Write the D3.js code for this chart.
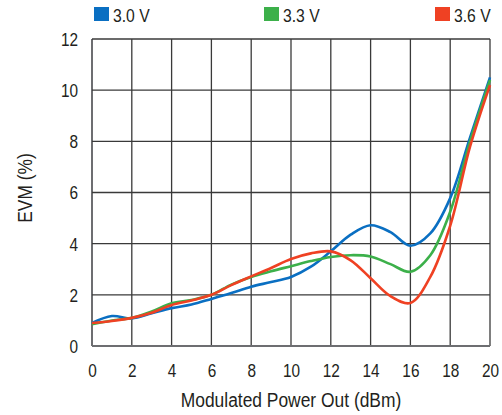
<!DOCTYPE html>
<html><head><meta charset="utf-8">
<script src="https://cdn.jsdelivr.net/npm/d3@7/dist/d3.min.js"></script>
<style>body{margin:0;background:#fff}svg{display:block}text{font-family:"Liberation Sans",Arial,sans-serif;fill:#231f20}</style>
</head><body><svg id="c" width="502" height="415"></svg>
<script>
const xValues = [0,1,2,3,4,5,6,7,8,9,10,11,12,13,14,15,16,17,18,19,20];
const seriesNames = ["3.0 V","3.3 V","3.6 V"];
const evm30 = [0.9,1.17,1.08,1.28,1.48,1.62,1.84,2.07,2.32,2.5,2.7,3.1,3.7,4.35,4.72,4.45,3.92,4.4,5.78,8.15,10.5];
const evm33 = [0.85,1.0,1.1,1.35,1.67,1.8,2.0,2.4,2.7,2.92,3.12,3.32,3.48,3.55,3.5,3.2,2.9,3.55,5.25,8.0,10.4];
const evm36 = [0.9,0.98,1.1,1.3,1.6,1.78,2.0,2.38,2.72,3.05,3.4,3.62,3.7,3.35,2.65,1.95,1.68,2.7,4.7,7.8,10.2];
const xTicks = [0,2,4,6,8,10,12,14,16,18,20];
const yTicks = [0,2,4,6,8,10,12];
const colors = ["#0a6fc2","#3cb04a","#ef4123"];

const svg = d3.select("#c");
const x = d3.scaleLinear().domain([0,20]).range([92,490]);
const y = d3.scaleLinear().domain([0,12]).range([346,39]);

function condense(sel,k){
  sel.each(function(){
    const w=this.getComputedTextLength();
    d3.select(this).attr("textLength",w*k).attr("lengthAdjust","spacingAndGlyphs");
  });
}

// grid
svg.append("g").selectAll("line").data(xTicks).join("line")
  .attr("x1",d=>x(d)).attr("x2",d=>x(d)).attr("y1",y(0)).attr("y2",y(12))
  .attr("stroke",d=>d===0?"#6d6e71":"#3a3a3a").attr("stroke-width",d=>d===0?2:1.3);
svg.append("g").selectAll("line").data(yTicks).join("line")
  .attr("x1",x(0)).attr("x2",x(20)).attr("y1",d=>y(d)).attr("y2",d=>y(d))
  .attr("stroke",d=>d===0?"#6d6e71":"#3a3a3a").attr("stroke-width",d=>d===0?2:1.3);

const ff='"Liberation Sans",Arial,sans-serif';
// axes labels
const yAxis = d3.axisLeft(y).tickValues(yTicks).tickSize(0).tickPadding(14);
const gy = svg.append("g").attr("transform",`translate(${x(0)},0)`).call(yAxis);
gy.select(".domain").remove();
gy.selectAll("text").attr("font-size",18.5).style("font-family",ff).attr("fill","#231f20").attr("dy","0.35em");
condense(gy.selectAll("text"),0.83);
const xAxis = d3.axisBottom(x).tickValues(xTicks).tickSize(0).tickPadding(13);
const gx = svg.append("g").attr("transform",`translate(0,${y(0)})`).call(xAxis);
gx.select(".domain").remove();
gx.selectAll("text").attr("font-size",18.5).style("font-family",ff).attr("fill","#231f20").attr("y",31).attr("dy",0);
condense(gx.selectAll("text"),0.83);

const xt = svg.append("text").attr("x",(x(0)+x(20))/2).attr("y",407).attr("text-anchor","middle").attr("font-size",20).text("Modulated Power Out (dBm)");
condense(xt,0.87);
const yt = svg.append("text").attr("transform","translate(32,188) rotate(-90)").attr("text-anchor","middle").attr("font-size",20).text("EVM (%)");
condense(yt,0.87);

// lines
const line = d3.line().x((d,i)=>x(xValues[i])).y(d=>y(d)).curve(d3.curveCatmullRom.alpha(0.5));
[evm30,evm33,evm36].forEach((s,i)=>{
  svg.append("path").attr("d",line(s)).attr("fill","none").attr("stroke",colors[i]).attr("stroke-width",2.6);
});
// legend
const legX = [94,264,435];
seriesNames.forEach((n,i)=>{
  svg.append("rect").attr("x",legX[i]).attr("y",7).attr("width",15).attr("height",14).attr("fill",colors[i]);
  const t = svg.append("text").attr("x",legX[i]+19).attr("y",21.5).attr("font-size",18.5).text(n);
  condense(t,0.85);
});
</script></body></html>
